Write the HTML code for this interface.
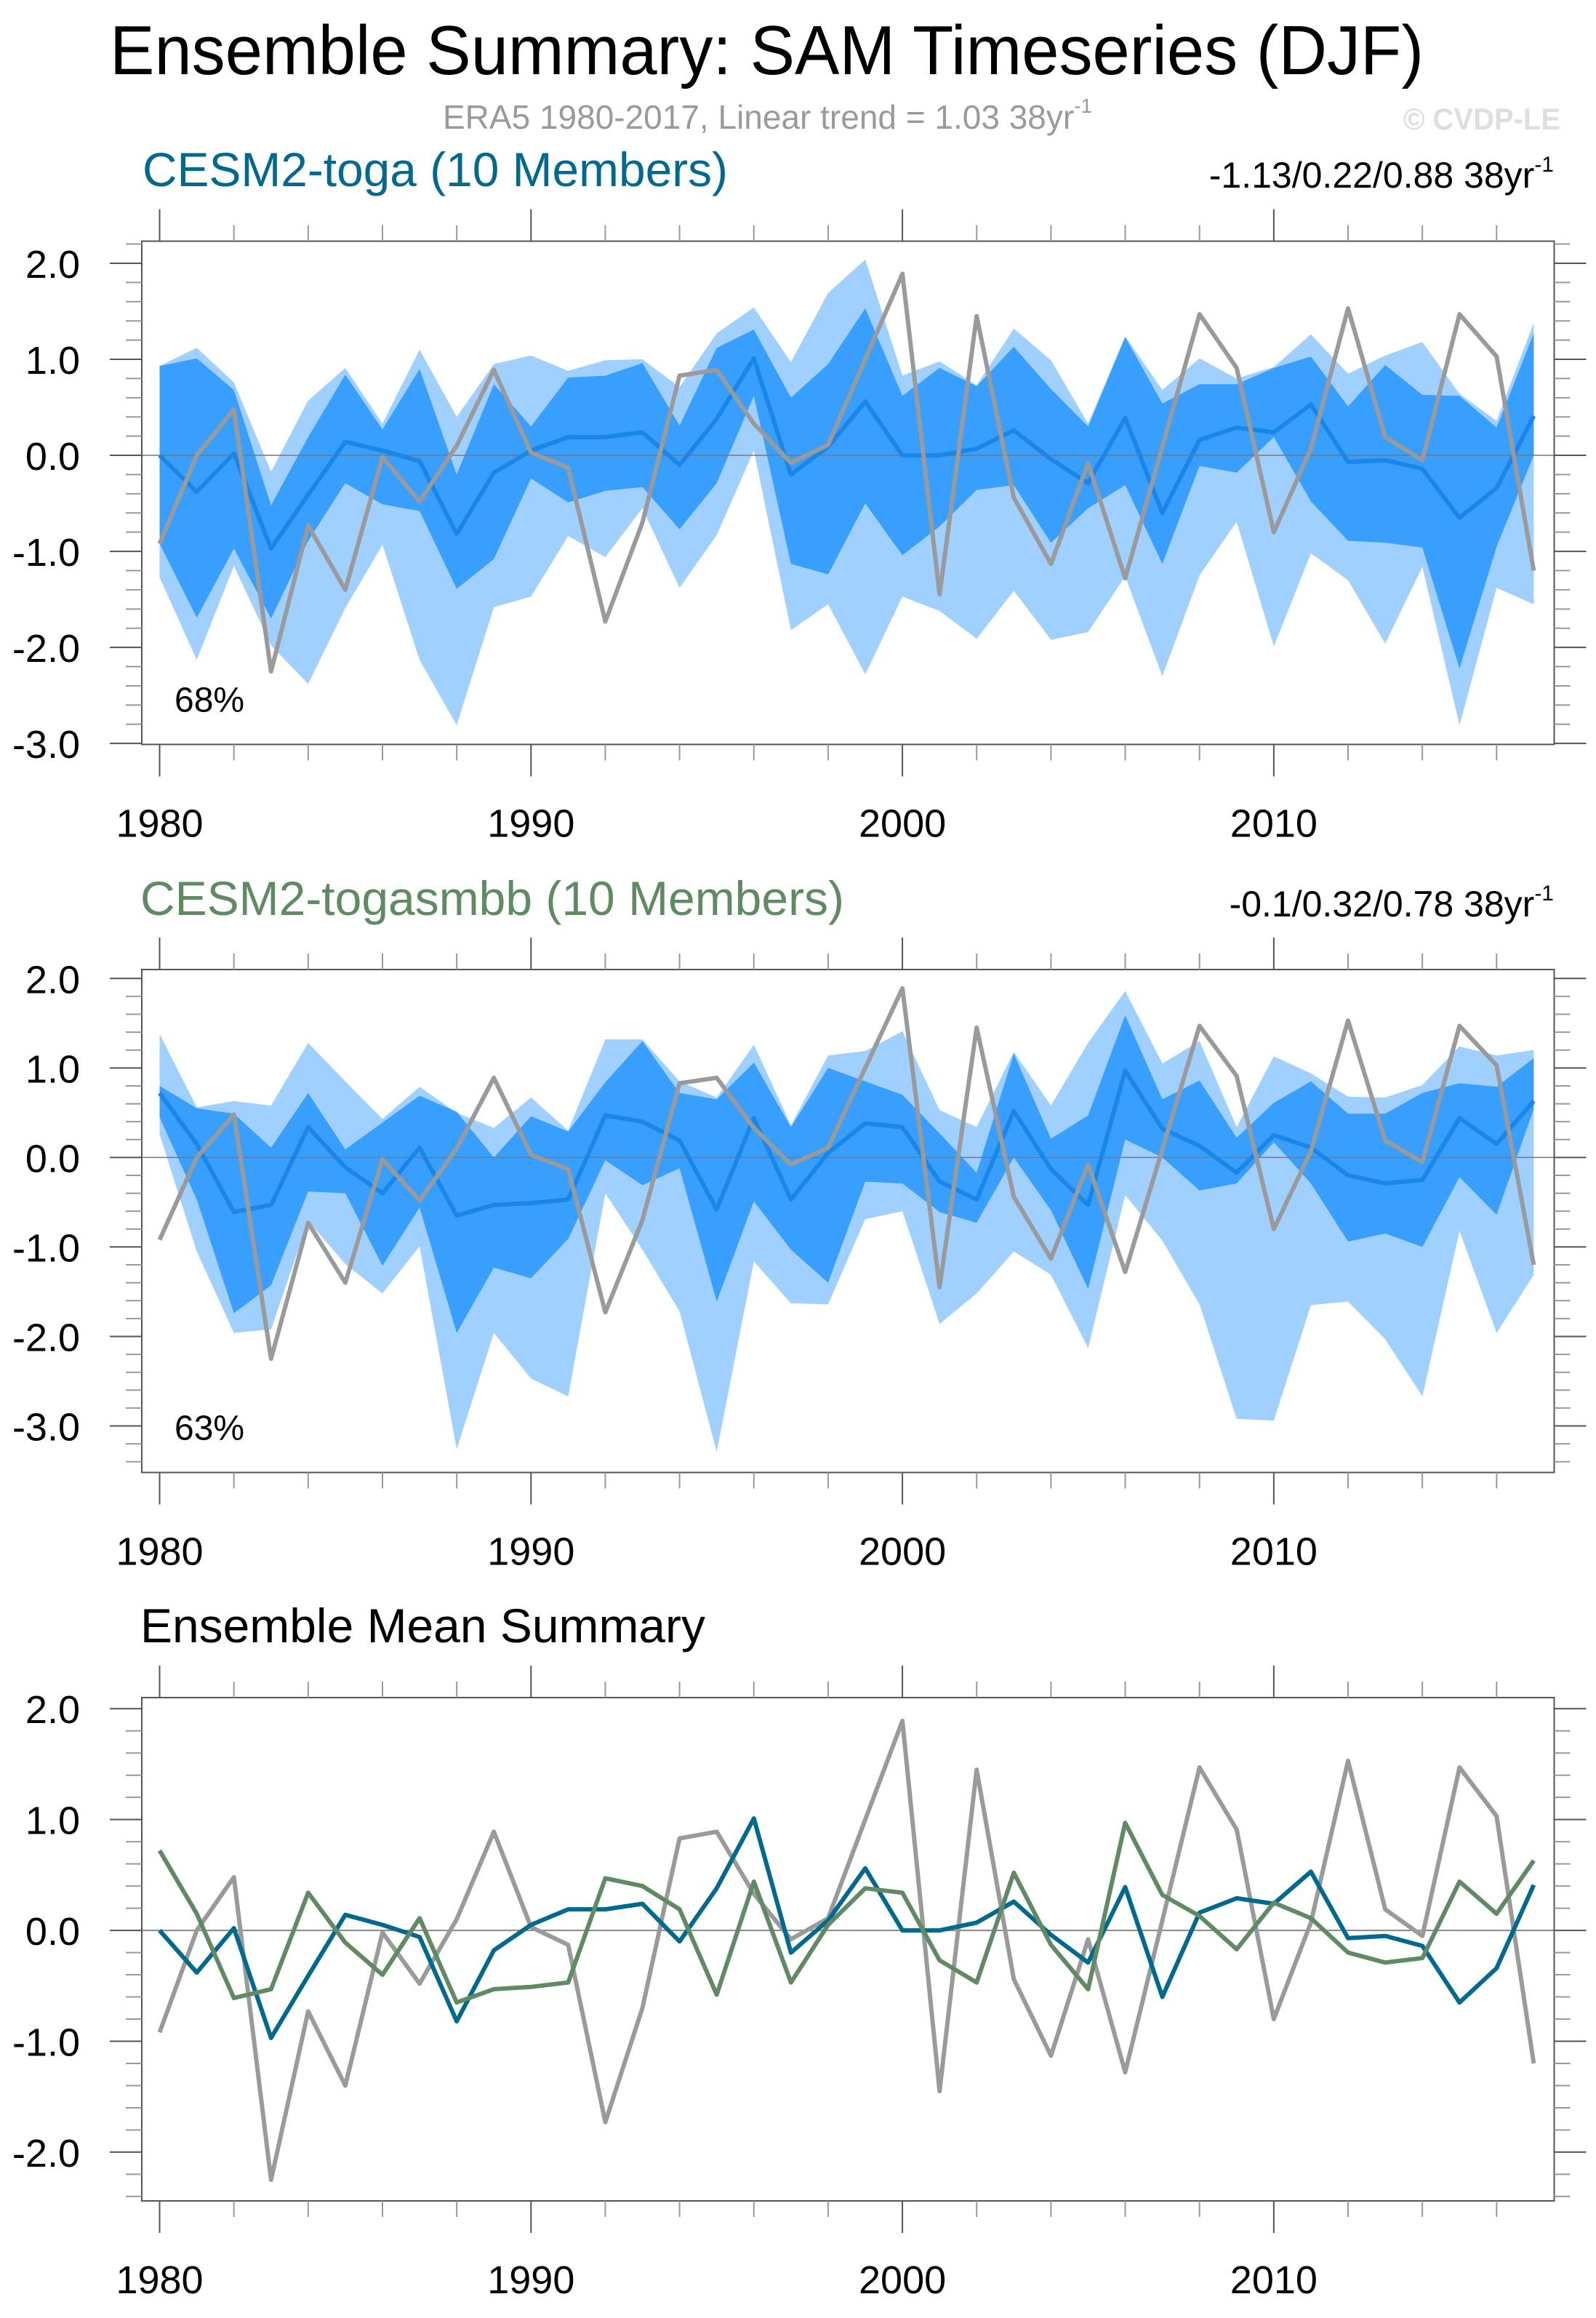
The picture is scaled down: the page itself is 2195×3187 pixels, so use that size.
<!DOCTYPE html>
<html><head><meta charset="utf-8"><title>Ensemble Summary: SAM Timeseries (DJF)</title>
<style>html,body{margin:0;padding:0;background:#fff;}svg{display:block;font-family:"Liberation Sans",Arial,sans-serif;}</style>
</head><body>
<svg id="chart" xmlns="http://www.w3.org/2000/svg" width="2195" height="3187" viewBox="0 0 2195 3187">
<rect width="2195" height="3187" fill="#fff"/>
<text x="151" y="102" font-size="96" textLength="1807" lengthAdjust="spacingAndGlyphs" fill="#000">Ensemble Summary: SAM Timeseries (DJF)</text>
<text x="609" y="177" font-size="46" fill="#9a9a9a">ERA5 1980-2017, Linear trend = 1.03 38yr<tspan font-size="28" dy="-22">-1</tspan></text>
<text x="1930" y="178" font-size="42" font-weight="bold" textLength="216" lengthAdjust="spacingAndGlyphs" fill="#dedede">© CVDP-LE</text>
<text x="196" y="256" font-size="66" textLength="805" lengthAdjust="spacingAndGlyphs" fill="#00698f">CESM2-toga (10 Members)</text>
<text x="2137" y="258" font-size="50" text-anchor="end" fill="#000">-1.13/0.22/0.88 38yr<tspan font-size="30" dy="-22">-1</tspan></text>
<text x="193" y="1258" font-size="66" textLength="968" lengthAdjust="spacingAndGlyphs" fill="#5f8a62">CESM2-togasmbb (10 Members)</text>
<text x="2137" y="1260" font-size="50" text-anchor="end" fill="#000">-0.1/0.32/0.78 38yr<tspan font-size="30" dy="-22">-1</tspan></text>
<text x="193" y="2258" font-size="66" textLength="777" lengthAdjust="spacingAndGlyphs" fill="#000">Ensemble Mean Summary</text>
<g id="plots"></g>
</svg>
<script>
const years = [];
for (let y = 1980; y <= 2017; y++) years.push(y);
const obs = [-0.92,0.0,0.48,-2.25,-0.73,-1.40,-0.02,-0.48,0.10,0.89, 0.03,-0.13,-1.73,-0.70,0.83,0.89,0.33,-0.08,0.11,1.0, 1.89,-1.45,1.45,-0.44,-1.13,-0.08,-1.28,0.09,1.47,0.91, -0.80,0.07,1.53,0.19,-0.05,1.47,1.03,-1.20];
const togaMean = [0.0,-0.38,0.02,-0.97,-0.41,0.14,0.05,-0.06,-0.82,-0.18, 0.05,0.19,0.19,0.24,-0.10,0.38,1.01,-0.20,0.09,0.56, 0.0,0.0,0.07,0.26,-0.04,-0.29,0.39,-0.60,0.16,0.29, 0.24,0.53,-0.07,-0.05,-0.14,-0.65,-0.34,0.41];
const togaInnerHi = [0.93,1.01,0.68,-0.52,0.19,0.84,0.27,0.90,-0.20,0.74, 0.30,0.81,0.83,0.96,0.31,1.12,1.31,0.60,0.95,1.53, 0.62,0.91,0.72,1.13,0.69,0.30,1.23,0.54,0.74,0.74, 0.91,1.03,0.51,0.94,0.63,0.62,0.29,1.27];
const togaInnerLo = [-0.92,-1.69,-0.97,-1.70,-0.89,-0.29,-0.51,-0.58,-1.39,-1.08, -0.24,-0.49,-0.37,-0.33,-0.77,-0.29,0.62,-1.13,-1.24,-0.50, -1.04,-0.74,-0.36,-0.31,-0.91,-0.55,-0.31,-1.13,-0.11,-0.18, 0.19,-0.48,-0.89,-0.91,-0.96,-2.22,-0.95,0.0];
const togaOuterHi = [0.93,1.12,0.76,-0.17,0.57,0.91,0.33,1.10,0.40,0.95, 1.04,0.88,0.99,1.00,0.71,1.27,1.54,0.97,1.69,2.04, 0.83,0.98,0.73,1.32,0.99,0.33,1.24,0.68,1.01,0.80, 0.92,1.26,0.85,1.04,1.18,0.64,0.36,1.38];
const togaOuterLo = [-1.27,-2.13,-1.15,-1.98,-2.38,-1.59,-0.93,-2.13,-2.81,-1.58, -1.47,-0.84,-1.06,-0.55,-1.38,-0.83,0.05,-1.82,-1.55,-2.28, -1.47,-1.62,-1.91,-1.41,-1.92,-1.84,-1.26,-2.30,-1.25,-0.69, -1.99,-1.02,-1.30,-1.96,-1.16,-2.81,-1.38,-1.55];
const smbbMean = [0.72,0.15,-0.61,-0.53,0.34,-0.11,-0.40,0.11,-0.65,-0.53, -0.51,-0.47,0.47,0.40,0.19,-0.58,0.44,-0.47,0.05,0.38, 0.34,-0.27,-0.47,0.52,-0.13,-0.53,0.97,0.32,0.13,-0.17, 0.25,0.11,-0.20,-0.29,-0.25,0.44,0.15,0.63];
const smbbInnerHi = [0.80,0.55,0.49,0.11,0.72,0.09,0.39,0.69,0.51,0.0, 0.46,0.29,0.84,1.30,0.72,0.65,1.06,0.34,1.0,0.85, 0.70,0.27,-0.17,1.16,0.21,0.47,1.59,0.65,0.86,0.22, 0.61,0.85,0.49,0.49,0.72,0.83,0.79,1.11];
const smbbInnerLo = [0.45,-0.47,-1.74,-1.43,-0.38,-0.40,-1.21,-0.56,-1.96,-1.23, -1.35,-0.91,-0.03,-0.31,-0.12,-1.61,-0.49,-1.03,-1.40,-0.27, -0.29,-0.61,-0.73,0.0,-0.59,-1.47,0.20,0.0,-0.37,-0.29, 0.17,-0.29,-0.94,-0.85,-1.0,-0.22,-0.64,0.54];
const smbbOuterHi = [1.38,0.56,0.63,0.58,1.28,0.85,0.43,0.79,0.50,0.33, 0.67,0.30,1.32,1.32,0.85,0.67,1.26,0.36,1.14,1.19, 1.41,0.53,0.34,1.18,0.58,1.28,1.86,1.05,1.30,0.34, 1.13,0.94,0.68,0.67,0.81,1.24,1.14,1.20];
const smbbOuterLo = [0.26,-1.05,-1.96,-1.92,-0.71,-1.19,-1.52,-0.99,-3.26,-1.96, -2.47,-2.67,-0.40,-1.03,-1.72,-3.29,-1.16,-1.63,-1.64,-0.69, -0.60,-1.86,-1.52,-1.05,-1.31,-2.13,-0.42,-0.93,-1.64,-2.92, -2.94,-1.65,-1.61,-2.03,-2.67,-0.82,-1.96,-1.31];
const yTickLabels1 = ["2.0","1.0","0.0","-1.0","-2.0","-3.0"];
const yTickLabels2 = ["2.0","1.0","0.0","-1.0","-2.0","-3.0"];
const yTickLabels3 = ["2.0","1.0","0.0","-1.0","-2.0"];
const xTickLabels = ["1980","1990","2000","2010"];

const NS = "http://www.w3.org/2000/svg";
const root = document.getElementById("plots");
const X0 = 195, X1 = 2137.5, XMIN = 1979.52, XMAX = 2017.55;
const LW = 6;
function xs(yr) { return X0 + (yr - XMIN) / (XMAX - XMIN) * (X1 - X0); }
function mk(tag, attrs, parent) {
  const e = document.createElementNS(NS, tag);
  for (const k in attrs) e.setAttribute(k, attrs[k]);
  (parent || root).appendChild(e);
  return e;
}
function linePts(vals, ys) { return vals.map((v, i) => xs(years[i]).toFixed(1) + "," + ys(v).toFixed(1)).join(" "); }
function bandPts(hi, lo, ys) {
  const a = hi.map((v, i) => xs(years[i]).toFixed(1) + "," + ys(v).toFixed(1));
  const b = lo.map((v, i) => xs(years[i]).toFixed(1) + "," + ys(v).toFixed(1)).reverse();
  return a.concat(b).join(" ");
}

function panel(id, top, bottom, ymax, ymin, labels, draw, pct) {
  const ys = v => top + (ymax - v) / (ymax - ymin) * (bottom - top);
  const g = mk("g", {});
  
  
  const cp = mk("clipPath", {id: id + "-clip"}, g);
  mk("rect", {x: X0, y: top, width: X1 - X0, height: bottom - top}, cp);
  const plot = mk("g", {"clip-path": "url(#" + id + "-clip)"}, g);
  draw(plot, ys);
  const frame = mk("rect", {x: X0, y: top, width: X1 - X0, height: bottom - top, fill: "none", stroke: "#555", "stroke-width": 2}, g);
  
  
  const vStart = Math.ceil(ymin * 5 - 1e-6), vEnd = Math.floor(ymax * 5 + 1e-6);
  for (let k = vStart; k <= vEnd; k++) {
    const v = k / 5, y = ys(v), major = (k % 5 === 0);
    const len = major ? 44 : 22;
    mk("line", {x1: X0 - len, x2: X0, y1: y, y2: y, stroke: major ? "#555" : "#999", "stroke-width": 2}, g);
    mk("line", {x1: X1, x2: X1 + len, y1: y, y2: y, stroke: major ? "#555" : "#999", "stroke-width": 2}, g);
  }
  labels.forEach(s => {
    const t = mk("text", {x: 110, y: ys(parseFloat(s)) + 20, "font-size": 54, "text-anchor": "end", fill: "#000"}, g);
    
    
    t.textContent = s;
  });
  for (let yr = 1980; yr <= 2016; yr += 2) {
    const x = xs(yr), major = (yr % 10 === 0), len = major ? 44 : 22;
    mk("line", {x1: x, x2: x, y1: bottom, y2: bottom + len, stroke: major ? "#555" : "#999", "stroke-width": 2}, g);
    mk("line", {x1: x, x2: x, y1: top - len, y2: top, stroke: major ? "#555" : "#999", "stroke-width": 2}, g);
  }
  xTickLabels.forEach(s => {
    const t = mk("text", {x: xs(parseInt(s)), y: bottom + 127, "font-size": 54, "text-anchor": "middle", fill: "#000"}, g);
    
    
    t.textContent = s;
  });
  if (pct) {
    const t = mk("text", {x: 240, y: ys(ymin) - 45, "font-size": 48, fill: "#000"}, g);
    
    
    t.textContent = pct;
  }
}

function ensemble(oh, ol, ih, il, mean) {
  return function (p, ys) {
    const o = mk("polygon", {points: bandPts(oh, ol, ys), fill: "#a0d0ff"}, p);
    
    
    const i = mk("polygon", {points: bandPts(ih, il, ys), fill: "#389fff"}, p);
    
    
    mk("line", {x1: X0, x2: X1, y1: ys(0), y2: ys(0), stroke: "#777", "stroke-width": 1.5}, p);
    const m = mk("polyline", {points: linePts(mean, ys), fill: "none", stroke: "#1a86ea", "stroke-width": LW, "stroke-linejoin": "round"}, p);
    
    
    const ob = mk("polyline", {points: linePts(obs, ys), fill: "none", stroke: "#9a9a9a", "stroke-width": LW, "stroke-linejoin": "round"}, p);
    
    
  };
}

panel("panel-toga", 331.6, 1023.5, 2.23, -3.01, yTickLabels1, ensemble(togaOuterHi, togaOuterLo, togaInnerHi, togaInnerLo, togaMean), "68%");
panel("panel-togasmbb", 1333, 2024.5, 2.10, -3.52, yTickLabels2, ensemble(smbbOuterHi, smbbOuterLo, smbbInnerHi, smbbInnerLo, smbbMean), "63%");
panel("panel-mean-summary", 2334, 3026, 2.10, -2.44, yTickLabels3, function (p, ys) {
  mk("line", {x1: X0, x2: X1, y1: ys(0), y2: ys(0), stroke: "#888", "stroke-width": 2}, p);
  const ob = mk("polyline", {points: linePts(obs, ys), fill: "none", stroke: "#9a9a9a", "stroke-width": LW, "stroke-linejoin": "round"}, p);
  
  
  const a = mk("polyline", {points: linePts(togaMean, ys), fill: "none", stroke: "#006a8e", "stroke-width": LW, "stroke-linejoin": "round"}, p);
  
  
  const b = mk("polyline", {points: linePts(smbbMean, ys), fill: "none", stroke: "#5f8a64", "stroke-width": LW, "stroke-linejoin": "round"}, p);
  
  
}, null);
</script>
</body></html>
